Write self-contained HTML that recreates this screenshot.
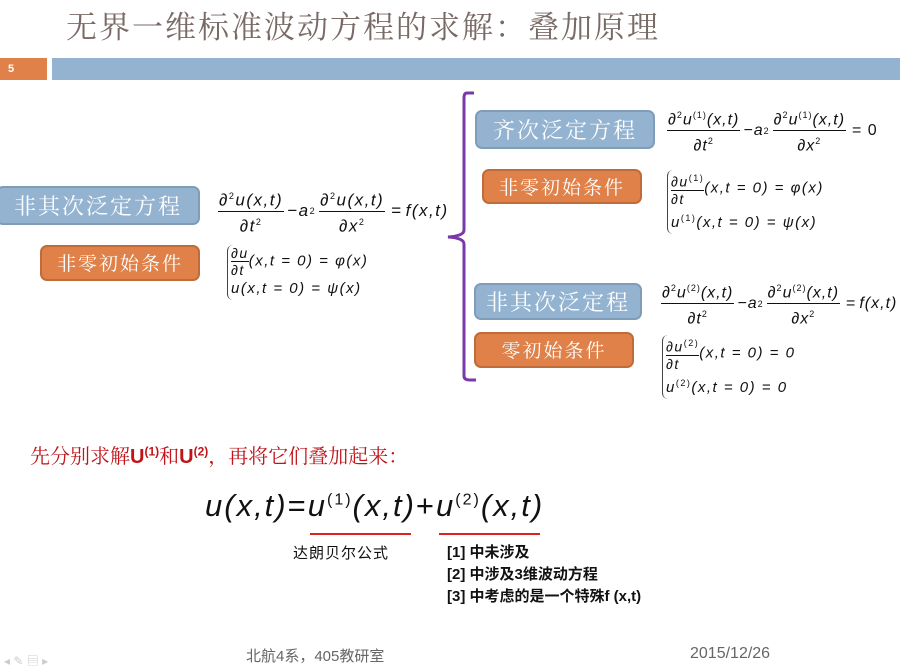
<!DOCTYPE html>
<html><head><meta charset="utf-8"><style>
body{margin:0;width:900px;height:669px;background:#fff;position:relative;overflow:hidden;font-family:"Liberation Sans","Noto Sans CJK SC",sans-serif}
.a{position:absolute;white-space:nowrap}
.box{position:absolute;border-radius:7px;color:#fff;font-family:"Noto Serif CJK SC","Noto Sans CJK SC",serif;text-align:center;letter-spacing:2px;box-sizing:border-box}
.bl{background:#93b3d0;border:2px solid #7f9db9}
.or{background:#df8149;border:2px solid #bf6c3a}
.eq{position:absolute;font-family:"Liberation Sans",sans-serif;font-style:italic;font-size:17px;color:#111;white-space:nowrap;display:flex;align-items:center;letter-spacing:1.5px}
.fr{display:inline-flex;flex-direction:column;align-items:center;margin:0 3px}
.fr .n{border-bottom:1px solid #111;padding:0 1px;line-height:21px}
.fr .d{line-height:21px}
sup{font-size:9px;font-style:normal}
.cs{position:absolute;font-family:"Liberation Sans",sans-serif;font-style:italic;font-size:15px;color:#111;line-height:22px;white-space:nowrap;border-left:1px solid #444;border-radius:6px 0 0 6px;padding-left:3px;letter-spacing:1.5px}
.n0{font-style:normal;margin:0 3px}
</style></head><body>
<div class="a" style="left:66px;top:2px;font-size:31px;color:#7a6a66;font-family:'Noto Serif CJK SC',serif;letter-spacing:2px">无界一维标准波动方程的求解：叠加原理</div>
<div class="a" style="left:0;top:58px;width:47px;height:22px;background:#df8149;color:#fff;font-size:11px;font-weight:bold;line-height:22px;padding-left:8px;box-sizing:border-box">5</div>
<div class="a" style="left:52px;top:58px;width:848px;height:22px;background:#93b3d0"></div>

<div class="box bl" style="left:-4px;top:186px;width:204px;height:39px;font-size:22px;line-height:35px">非其次泛定方程</div>
<div class="box or" style="left:40px;top:245px;width:160px;height:36px;font-size:19px;line-height:32px">非零初始条件</div>

<div class="eq" style="left:215px;top:186px"><span class="fr"><span class="n">∂<sup>2</sup>u(x,t)</span><span class="d">∂t<sup>2</sup></span></span>−<i>a</i><sup>2</sup><span class="fr"><span class="n">∂<sup>2</sup>u(x,t)</span><span class="d">∂x<sup>2</sup></span></span><span class="n0">=</span>f(x,t)</div>
<div class="cs" style="left:227px;top:245px"><span style="display:inline-flex;flex-direction:column;vertical-align:middle;font-size:14px;line-height:16px"><span style="border-bottom:1px solid #111">∂u</span><span>∂t</span></span>(x,t = 0) = φ(x)<br>u(x,t = 0) = ψ(x)</div>

<svg class="a" style="left:440px;top:88px" width="40" height="296"><path d="M34 5 L27 5 Q24 5 24 10 L24 142 Q24 148 8 149 Q24 150 24 156 L24 288 Q24 292 30 292 L36 292" fill="none" stroke="#7a38a8" stroke-width="3"/></svg>

<div class="box bl" style="left:475px;top:110px;width:180px;height:39px;font-size:22px;line-height:35px">齐次泛定方程</div>
<div class="box or" style="left:482px;top:169px;width:160px;height:35px;font-size:19px;line-height:31px">非零初始条件</div>
<div class="box bl" style="left:474px;top:283px;width:168px;height:37px;font-size:22px;line-height:33px">非其次泛定程</div>
<div class="box or" style="left:474px;top:332px;width:160px;height:36px;font-size:19px;line-height:32px">零初始条件</div>

<div class="eq" style="left:664px;top:105px;font-size:16px;letter-spacing:1px"><span class="fr"><span class="n">∂<sup>2</sup>u<sup>(1)</sup>(x,t)</span><span class="d">∂t<sup>2</sup></span></span>−<i>a</i><sup>2</sup><span class="fr"><span class="n">∂<sup>2</sup>u<sup>(1)</sup>(x,t)</span><span class="d">∂x<sup>2</sup></span></span><span class="n0">= 0</span></div>
<div class="cs" style="left:667px;top:170px"><span style="display:inline-flex;flex-direction:column;vertical-align:middle;font-size:14px;line-height:16px"><span style="border-bottom:1px solid #111">∂u<sup>(1)</sup></span><span>∂t</span></span>(x,t = 0) = φ(x)<br>u<sup>(1)</sup>(x,t = 0) = ψ(x)</div>

<div class="eq" style="left:658px;top:278px;font-size:16px;letter-spacing:1px"><span class="fr"><span class="n">∂<sup>2</sup>u<sup>(2)</sup>(x,t)</span><span class="d">∂t<sup>2</sup></span></span>−<i>a</i><sup>2</sup><span class="fr"><span class="n">∂<sup>2</sup>u<sup>(2)</sup>(x,t)</span><span class="d">∂x<sup>2</sup></span></span><span class="n0">=</span>f(x,t)</div>
<div class="cs" style="left:662px;top:335px"><span style="display:inline-flex;flex-direction:column;vertical-align:middle;font-size:14px;line-height:16px"><span style="border-bottom:1px solid #111">∂u<sup>(2)</sup></span><span>∂t</span></span>(x,t = 0) = 0<br>u<sup>(2)</sup>(x,t = 0) = 0</div>

<div class="a" style="left:30px;top:440px;font-size:20px;color:#c0141a;font-family:'Noto Serif CJK SC',serif">先分别求解<b style="font-family:'Liberation Sans'">U<sup style="font-size:12px">(1)</sup></b>和<b style="font-family:'Liberation Sans'">U<sup style="font-size:12px">(2)</sup></b>，再将它们叠加起来：</div>

<div class="a" style="left:205px;top:488px;font-size:31px;font-style:italic;color:#111;letter-spacing:2px">u(x,t)<span style="font-style:normal">=</span>u<sup style="font-size:16px">(1)</sup>(x,t)<span style="font-style:normal">+</span>u<sup style="font-size:16px">(2)</sup>(x,t)</div>
<div class="a" style="left:310px;top:533px;width:101px;height:2px;background:#e0201e"></div>
<div class="a" style="left:439px;top:533px;width:101px;height:2px;background:#e0201e"></div>

<div class="a" style="left:293px;top:542px;font-size:15px;color:#111;letter-spacing:1px">达朗贝尔公式</div>
<div class="a" style="left:447px;top:542px;font-size:15px;color:#111;font-weight:bold;line-height:22px">[1] 中未涉及<br>[2] 中涉及3维波动方程<br>[3] 中考虑的是一个特殊f (x,t)</div>

<div class="a" style="left:246px;top:645px;font-size:15px;color:#666">北航4系，405教研室</div>
<div class="a" style="left:690px;top:645px;font-size:16px;color:#666">2015/12/26</div>
<div class="a" style="left:4px;top:652px;font-size:12px;color:#ccc">◂ ✎ ▤ ▸</div>
</body></html>
